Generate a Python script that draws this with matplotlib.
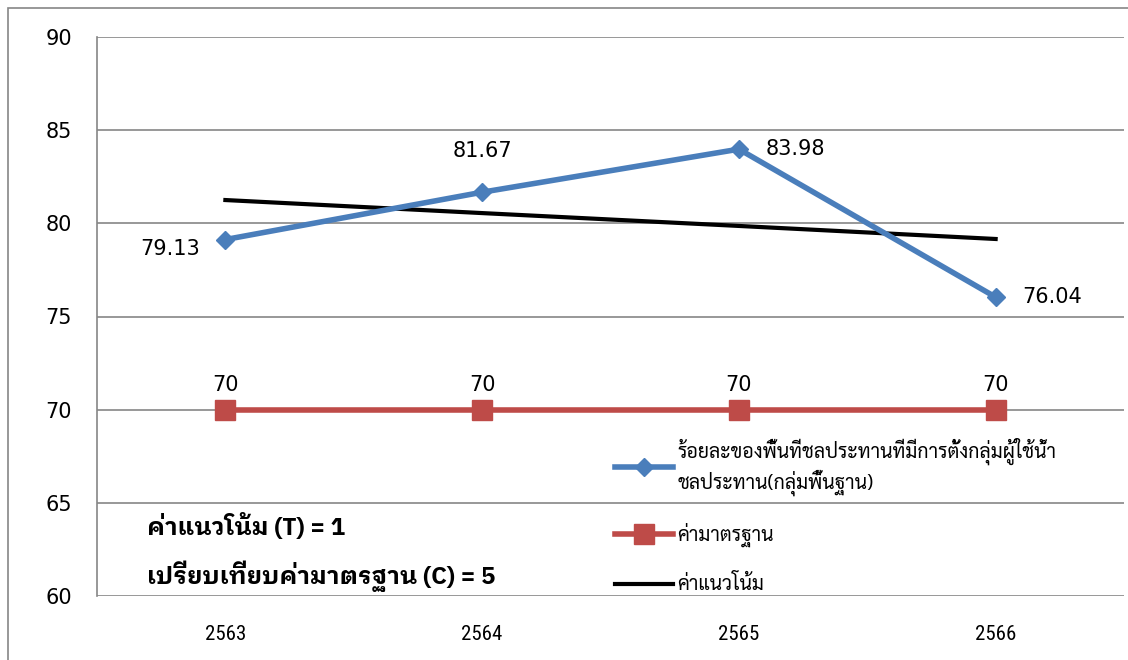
import matplotlib
matplotlib.use("Agg")
import matplotlib.pyplot as plt
from matplotlib.patches import Rectangle

# --- data ---
years = ["2563", "2564", "2565", "2566"]
pct_values = [79.13, 81.67, 83.98, 76.04]
standard_values = [70, 70, 70, 70]
trend_values = [81.25, 80.55, 79.86, 79.16]

label_pct = "ร้อยละของพื้นที่ชลประทานที่มีการตั้งกลุ่มผู้ใช้น้ำ\nชลประทาน(กลุ่มพื้นฐาน)"
label_std = "ค่ามาตรฐาน"
label_trend = "ค่าแนวโน้ม"
note_t = "ค่าแนวโน้ม (T) = 1"
note_c = "เปรียบเทียบค่ามาตรฐาน (C) = 5"

THAI = ["Sarabun", "IBM Plex Sans Thai Looped", "DejaVu Sans"]
THAI_BOLD = ["IBM Plex Sans Thai Looped", "DejaVu Sans"]
NARROW = ["Liberation Sans Narrow", "Roboto Condensed", "Archivo Narrow", "PT Sans Narrow",
          "DejaVu Sans"]
BLUE = "#4A7EBB"
RED = "#BE4B48"
GRID = "#868686"

fig = plt.figure(figsize=(11.28, 6.6), dpi=100)
ax = fig.add_axes([97 / 1128, 1 - 596 / 660, (1124 - 97) / 1128, (596 - 37) / 660])

# outer chart-area border
fig.patches.append(Rectangle((8 / 1128, -0.05), 1.2, 1 - 8 / 660 + 0.05,
                             transform=fig.transFigure, fill=False,
                             edgecolor=GRID, linewidth=1.2))

x = list(range(len(years)))
ax.plot(x, pct_values, color=BLUE, lw=4, marker="D", ms=9.5, zorder=4, label=label_pct)
ax.plot(x, standard_values, color=RED, lw=4, marker="s", ms=14.5, zorder=4, label=label_std)
ax.plot(x, trend_values, color="black", lw=3, zorder=3, label=label_trend)

# data labels
pct_offsets = [(-18, -7, "right"), (0, 30, "center"), (19, 0, "left"), (19, 0, "left")]
for xi, v, (dx, dy, ha) in zip(x, pct_values, pct_offsets):
    ax.annotate(f"{v:.2f}", (xi, v), xytext=(dx, dy), textcoords="offset points",
                ha=ha, va="center", fontsize=15, family="DejaVu Sans")
for xi, v in zip(x, standard_values):
    ax.annotate(f"{v}", (xi, v), xytext=(0, 18), textcoords="offset points",
                ha="center", va="center", fontsize=15, family="DejaVu Sans")

ax.set_xlim(-0.5, len(years) - 0.5)
ax.set_ylim(60, 90)
ax.set_yticks(range(60, 91, 5))
ax.set_xticks(x)
ax.set_xticklabels(years, family=NARROW, fontsize=15)
ax.tick_params(axis="y", length=0, pad=18, labelsize=15)
ax.tick_params(axis="x", length=0, pad=21)
ax.grid(axis="y", color=GRID, lw=1.2)
ax.set_axisbelow(True)
for side in ["top", "right", "bottom"]:
    ax.spines[side].set_visible(False)
ax.spines["left"].set_color(GRID)
ax.spines["left"].set_linewidth(1.2)

ax.text(0.049, 0.124, note_t, transform=ax.transAxes, fontsize=17.5, fontweight="bold",
        family=THAI_BOLD, va="center")
ax.text(0.049, 0.035, note_c, transform=ax.transAxes, fontsize=17.5, fontweight="bold",
        family=THAI_BOLD, va="center")

leg = ax.legend(loc="upper left", bbox_to_anchor=((615 - 97) / 1027, (596 - 438) / 559),
                frameon=False, handlelength=3.0, handletextpad=0.2, labelspacing=1.4,
                borderaxespad=0, borderpad=0, prop={"family": THAI, "size": 14})

fig.savefig("out.png", dpi=100)
